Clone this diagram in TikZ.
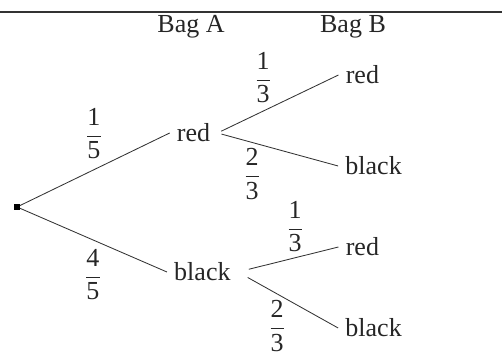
\documentclass[tikz,border=0pt]{standalone}
\usepackage{amsmath}
\usepackage{fontspec}
\setmainfont{Liberation Serif}
\usepackage{tikz}
\newcommand{\prob}[2]{$\dfrac{\text{#1}}{\text{#2}}$}

\begin{document}
\begin{tikzpicture}[font=\fontsize{18.5}{22}\selectfont,
    outcome/.style={inner xsep=5pt, inner ysep=2pt, text=black!85},
    head/.style={inner sep=1pt, text=black!85},
    frac/.style={inner sep=0pt, text=black!85},
    branch/.style={draw=black!80, line width=0.6pt}]
  \useasboundingbox (0,0) rectangle (12.55,8.875);

  % rule and headings
  \draw[black!80, line width=0.9pt] (0,8.575) -- (12.55,8.575);
  \node[head] (bagA) at (4.775,8.2) {Bag A};
  \node[head] (bagB) at (8.825,8.2) {Bag B};

  % tree
  \node[fill=black, inner sep=0pt, minimum size=4pt] (root) at (0.425,3.7) {};
  \node[outcome] (redA)    at (4.84,5.55)  {red};
  \node[outcome] (blackA)  at (5.06,2.075) {black};
  \node[outcome] (redB1)   at (9.06,7.0)   {red};
  \node[outcome] (blackB1) at (9.34,4.725) {black};
  \node[outcome] (redB2)   at (9.06,2.7)   {red};
  \node[outcome] (blackB2) at (9.34,0.675) {black};

  \draw[branch] (root) -- (redA.west);
  \draw[branch] (root) -- (blackA.west);
  \foreach \a/\b/\s in {redA/redB1/3pt,redA/blackB1/3pt,blackA/redB2/8pt,blackA/blackB2/8pt} {
    \draw[branch, shorten <=\s] (\a.east) -- (\b.west);
  }

  % probabilities
  \node[frac] (pRA)  at (2.35,5.525)  {\prob{1}{5}};
  \node[frac] (pBA)  at (2.325,2.0)   {\prob{4}{5}};
  \node[frac] (pRR)  at (6.575,6.925) {\prob{1}{3}};
  \node[frac] (pRB)  at (6.3,4.525)   {\prob{2}{3}};
  \node[frac] (pBR)  at (7.375,3.2)   {\prob{1}{3}};
  \node[frac] (pBB)  at (6.925,0.725) {\prob{2}{3}};
\end{tikzpicture}
\end{document}
